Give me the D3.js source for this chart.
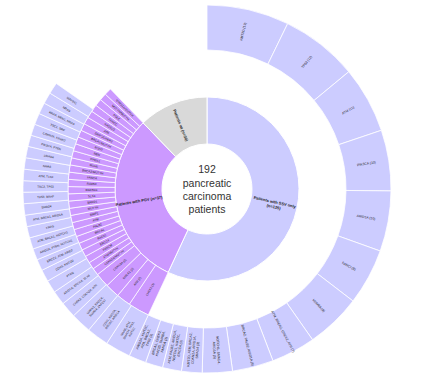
<!DOCTYPE html>
<html><head><meta charset="utf-8">
<script src="https://cdn.jsdelivr.net/npm/d3@7/dist/d3.min.js"></script>
<style>html,body{margin:0;padding:0;background:#fff;}svg{display:block;}</style>
</head><body>
<svg id="chart" width="425" height="379"></svg>
<script>
// ---- data (angular weights, in degrees) ----
const centerLines = ["192", "pancreatic", "carcinoma", "patients"];

const groupLabels = [["Patients with SSV only", "(n=125)"], ["Patients with PGV (n=37)"], ["Patients wt (n=30)"]];
const groupWeights = [205, 111, 44];

const ssvLabels = [
  "KMT2D (13)", "TP53 (12)", "ATM (11)", "PIK3CA (10)", "ARID1A (10)", "FANCI (9)", "KDM6A (9)",
  "ATM, BRCA2, CHEK2, ATR (7)", "BRCA2, PALB2, ARID1A (6)", "NOTCH1, SMAD4,|ARID1A (5)",
  "KMT2D, ATM, BRCA2,|CDKN2A, ARID1A,|SMAD4 (3)", "ATM, PALB2, ARID1A,|NOTCH1, KMT2C,|ERCC4 (3)",
  "BRCA1, CHEK2,|KMT2D, SMAD4,|FANCA (3)", "ARID1A, KMT2C,|ATR, BRCA2,|TP53 (3)"
];
const ssvWeights = [26, 24.4, 21, 19.2, 19.1, 17.8, 17.5, 14, 13, 9.5, 6.5, 6, 5.5, 5.5];

const pgvGeneLabels = [
  "CHEK2 (3)", "ATM (2)", "BRCA2 (2)", "CDKN2A (2)",
  "CDKN2A/MUTYH", "ATM/MUTYH", "FANCM", "ERCC4", "RAD51", "BRCA1", "PALB2", "ATM", "BRIP1", "MUTYH",
  "BARD1", "SLX4", "RAD51C", "RAD50", "FANCA", "BRCA2/MUTYH", "MSH6", "CHEK1", "NBN", "MSH2",
  "BRCA1/MUTYH", "BRIP1/CHEK2", "ATR", "RAD51D", "FANCC", "POLE", "MUTYH/MUTYH", "MRE11A/MUTYH"
];
const pgvGeneWeights = [9, 6, 6, 6,
  3, 3, 3, 3, 3, 3, 3, 3, 3, 3, 3, 3, 3, 3, 3, 3, 3, 3, 3, 3, 3, 3, 3, 3, 3, 3, 3, 3];

const pgvSsvLabels = [
  "NRAS, ATM,|SMAD4, TP53,|KMT2C", "CDH1, KMT2A,|BRCA2, ARID1A", "MAPK1, ERCC4,|SMAD4, ZNF217",
  "CHEK2, CDKN2A, ATR", "ARID1A, ERCC4, SLX4", "PTEN", "CDH1, KMT2D", "ERCC2, ATM, ARID2",
  "ARID1A, PTEN, NOTCH1", "ATM, BRCA1, NOTCH1", "KRAS", "ATM, BRCA1, ARID1A", "SMAD4", "TP53, BRAF",
  "TSC2, TP53", "ATM, TLN1", "NRAS", "SMAD4", "PIK3CA, PTEN", "CDKN2A, ERBB2", "TSC2, SRC",
  "KRAS, MEN1, NRAS", "NRAS", "MAP3K1"
];
const pgvSsvWeights = [8, 7, 6.5, 5, 4.5, 4, 3.8,
  3.6, 3.6, 3.6, 3.6, 3.6, 3.6, 3.6, 3.6, 3.6, 3.6, 3.6, 3.6, 3.6, 3.6, 3.6, 3.6, 3.6];

// ---- styling ----
const colors = { ssv: "#ccccff", pgv: "#cc99ff", wt: "#d9d9d9", outer: "#ccccff" };
const groupColors = [colors.ssv, colors.pgv, colors.wt];
const cx = 207, cy = 189;
const rHole = 45, rInner = 92, rMid = 139, rOuter = 184;
const font = "'Liberation Sans', Arial, sans-serif";

const svg = d3.select("#chart");
const g = svg.append("g").attr("transform", `translate(${cx},${cy})`);
const angle = d3.scaleLinear().domain([0, 360]).range([0, 2 * Math.PI]);

const pieOf = (weights, start, end) =>
  d3.pie().sort(null).value(d => d).startAngle(start).endAngle(end)(weights);

const inner = pieOf(groupWeights, 0, 2 * Math.PI);
const ssvArcs = pieOf(ssvWeights, inner[0].startAngle, inner[0].endAngle);
const pgvGeneArcs = pieOf(pgvGeneWeights, inner[1].startAngle, inner[1].endAngle);
const pgvSsvArcs = pieOf(pgvSsvWeights, inner[1].startAngle,
  inner[1].startAngle + angle(d3.sum(pgvSsvWeights)));

const arcInner = d3.arc().innerRadius(rHole).outerRadius(rInner);
const arcMid = d3.arc().innerRadius(rInner).outerRadius(rMid);
const arcOuter = d3.arc().innerRadius(rMid).outerRadius(rOuter);

function drawRing(arcs, gen, fill, strokeW) {
  g.append("g").selectAll("path").data(arcs).join("path")
    .attr("d", gen).attr("fill", fill)
    .attr("stroke", "#ffffff").attr("stroke-width", strokeW);
}

function labels(arcs, texts, r, size, weight, lh) {
  const grp = g.append("g").attr("font-family", font).attr("font-size", size)
    .attr("font-weight", weight).attr("fill", "#222");
  arcs.forEach((d, i) => {
    const a = (d.startAngle + d.endAngle) / 2;
    const x = r * Math.sin(a), y = -r * Math.cos(a);
    let deg = a * 180 / Math.PI - 90;
    if (a > Math.PI) deg += 180;
    const lines = Array.isArray(texts[i]) ? texts[i] : texts[i].split("|");
    const t = grp.append("text")
      .attr("transform", `translate(${x.toFixed(2)},${y.toFixed(2)}) rotate(${deg.toFixed(2)})`)
      .attr("text-anchor", "middle").attr("dominant-baseline", "central");
    lines.forEach((l, k) => {
      t.append("tspan").attr("x", 0).attr("y", ((k - (lines.length - 1) / 2) * lh).toFixed(2)).text(l);
    });
  });
}

drawRing(inner, arcInner, (d, i) => groupColors[i], 1);
drawRing(ssvArcs, arcOuter, colors.outer, 0.8);
drawRing(pgvGeneArcs, arcMid, colors.pgv, 0.7);
drawRing(pgvSsvArcs, arcOuter, colors.outer, 0.7);

labels(inner, groupLabels, 69, 4, "bold", 5);
labels(ssvArcs, ssvLabels, (rMid + rOuter) / 2, 3.4, "normal", 4);
labels(pgvGeneArcs, pgvGeneLabels, (rInner + rMid) / 2, 3, "normal", 3.6);
labels(pgvSsvArcs, pgvSsvLabels, (rMid + rOuter) / 2, 3, "normal", 3.6);

// center text
const ct = g.append("text").attr("font-family", font).attr("font-size", 10.5)
  .attr("fill", "#333").attr("text-anchor", "middle");
const lineY = [-16, -2, 11, 24];
centerLines.forEach((l, i) => ct.append("tspan").attr("x", 0).attr("y", lineY[i]).text(l));
</script>
</body></html>
